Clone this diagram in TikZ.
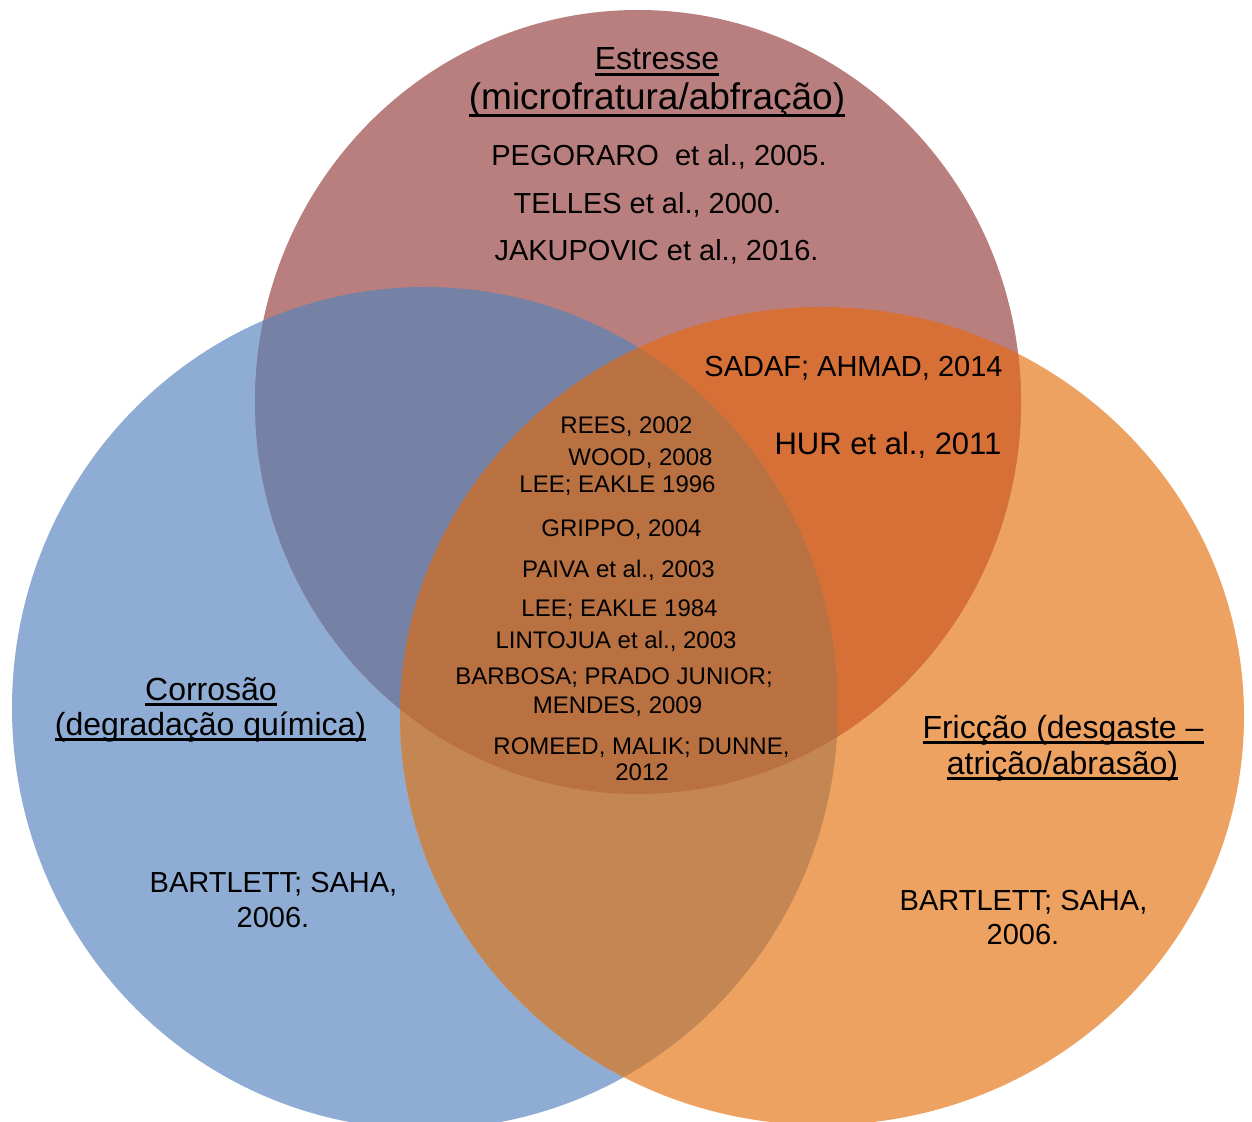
\documentclass[tikz,border=0pt]{standalone}
\usepackage{fontspec}
\setmainfont{Liberation Sans}
\usepackage{xcolor}
\usepackage{tikz}
\usetikzlibrary{positioning}

\definecolor{topc}{HTML}{B97F7E}
\definecolor{leftc}{HTML}{8FADD4}
\definecolor{rightc}{HTML}{EDA262}
\definecolor{topleft}{HTML}{7582A5}
\definecolor{topright}{HTML}{D67036}
\definecolor{leftright}{HTML}{C48652}
\definecolor{allc}{HTML}{B97142}

% underline just under the baseline
\newcommand\ulin[1]{\setbox0\hbox{#1}\rlap{\vrule height -0.10em depth 0.185em width \wd0}\box0}

% the three circles
\newcommand\topring{(638,402) ellipse [x radius=383, y radius=392]}
\newcommand\leftring{(425,708) ellipse [x radius=413, y radius=421]}
\newcommand\rightring{(822,716) ellipse [x radius=422, y radius=409]}

\tikzset{
  head/.style={anchor=base, inner sep=0pt, font=\fontsize{16}{19}\selectfont},
  cite/.style={anchor=base, inner sep=0pt, font=\fontsize{14.5}{17}\selectfont},
  core/.style={anchor=base, inner sep=0pt, font=\fontsize{12}{14}\selectfont}
}

\begin{document}
\begin{tikzpicture}[x=0.5pt, y=-0.5pt]
  \clip (0,0) rectangle (1252,1122);
  \useasboundingbox (0,0) rectangle (1252,1122);

  % single areas
  \fill[leftc] \leftring;
  \fill[rightc] \rightring;
  \fill[topc] \topring;
  % overlaps of two
  \begin{scope}
    \clip \topring;
    \fill[topleft] \leftring;
  \end{scope}
  \begin{scope}
    \clip \topring;
    \fill[topright] \rightring;
  \end{scope}
  \begin{scope}
    \clip \leftring;
    \fill[leftright] \rightring;
  \end{scope}
  % overlap of all three
  \begin{scope}
    \clip \topring;
    \clip \leftring;
    \fill[allc] \rightring;
  \end{scope}

  % Estresse
  \node[head] (est1) at (657,70) {\ulin{Estresse}};
  \node[head, font=\fontsize{18.5}{22}\selectfont] (est2) at (657,110) {\ulin{(microfratura/abfração)}};
  \node[cite] (pego) at (659,166) {PEGORARO\ \ et al., 2005.};
  \node[cite] (tell) at (647.5,214) {TELLES et al., 2000.};
  \node[cite] (jaku) at (656.5,261) {JAKUPOVIC et al., 2016.};

  % Estresse + Friccao
  \node[cite] (sada) at (853.5,377) {SADAF; AHMAD, 2014};
  \node[cite, font=\fontsize{15.5}{18}\selectfont] (hur) at (888,455) {HUR et al., 2011};

  % all three
  \node[core] (rees) at (626.5,434) {REES, 2002};
  \node[core] (wood) at (640.5,466) {WOOD, 2008};
  \node[core] (lee1) at (617.5,493) {LEE; EAKLE 1996};
  \node[core] (grip) at (621.5,537) {GRIPPO, 2004};
  \node[core] (paiv) at (618.5,577) {PAIVA et al., 2003};
  \node[core] (lee2) at (619.5,616) {LEE; EAKLE 1984};
  \node[core] (lint) at (616,648) {LINTOJUA et al., 2003};
  \node[core] (barb1) at (614,684) {BARBOSA; PRADO JUNIOR;};
  \node[core] (barb2) at (617.5,713) {MENDES, 2009};
  \node[core] (rome1) at (641.5,754) {ROMEED, MALIK; DUNNE,};
  \node[core] (rome2) at (642,780) {2012};

  % Corrosao
  \node[head] (cor1) at (211,700) {\ulin{Corrosão}};
  \node[head] (cor2) at (210.5,735) {\ulin{(degradação química)}};
  \node[cite] (bartl1) at (273.5,892) {BARTLETT; SAHA,};
  \node[cite] (bartl2) at (273,927) {2006.};

  % Friccao
  \node[head] (fri1) at (1063,738) {\ulin{Fricção (desgaste –}};
  \node[head] (fri2) at (1062.5,774) {\ulin{atrição/abrasão)}};
  \node[cite] (bartr1) at (1023.5,910) {BARTLETT; SAHA,};
  \node[cite] (bartr2) at (1023,944) {2006.};
\end{tikzpicture}
\end{document}
